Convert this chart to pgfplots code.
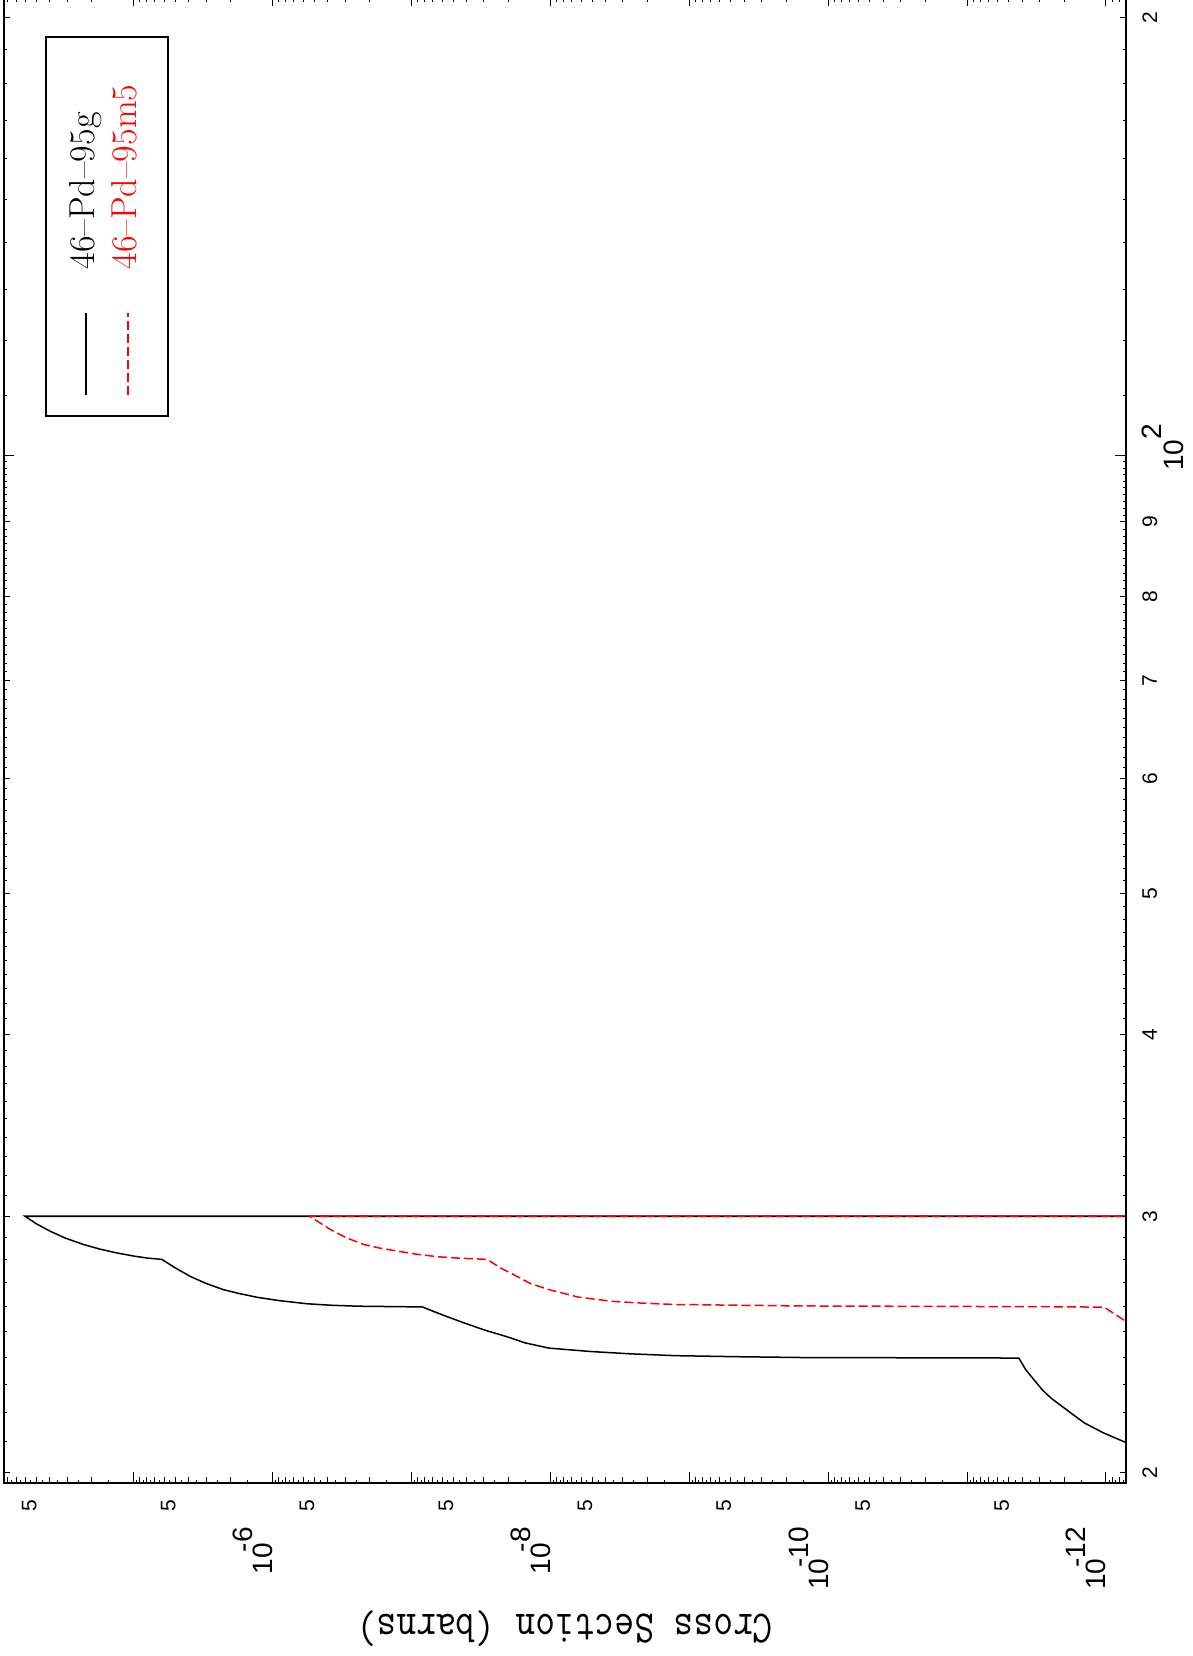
\documentclass[border=0pt]{standalone}
\usepackage{fontspec}
\setsansfont{Liberation Sans}
\usepackage{graphicx}
\usepackage{pgfplots}
\pgfplotsset{compat=1.18}

\def\halfs{7.5e-13,8.5e-13,9.5e-13}
\foreach \ee in {-12,...,-6}{\foreach \mm in {1.5,2.5,3.5,4.5,5.5,6.5,7.5,8.5,9.5}{\xdef\halfs{\halfs,\mm e\ee}}}
\xdef\halfs{\halfs,1.5e-5,2.5e-5,3.5e-5,4.5e-5,5.5e-5,6.5e-5,7.5e-5,8.5e-5}
\def\ints{7e-13,8e-13,9e-13}
\foreach \ee in {-12,...,-6}{\foreach \mm in {2,3,4,6,7,8,9}{\xdef\ints{\ints,\mm e\ee}}}
\xdef\ints{\ints,2e-5,3e-5,4e-5,6e-5,7e-5,8e-5}
\def\units{21,22,23,24,25,26,27,28,29}
\foreach \tensd in {3,...,9}{\foreach \unitd in {1,...,9}{\xdef\units{\units,\tensd\unitd}}}
\xdef\units{\units,110,120,130,140,150,160,170,180,190}

\newcommand{\dec}[1]{\fontsize{14}{14}\selectfont 10\raisebox{10pt}{\llap{-}#1}}

\begin{document}
\begin{tikzpicture}
\begin{scope}[rotate=90,transform shape]
\begin{axis}[
  xmode=log, ymode=log,
  scale only axis, width=742.8pt, height=560.4pt,
  xmin=19.68, xmax=207, ymin=7.18e-13, ymax=8.54e-5,
  axis line style={line width=0.8pt},
  tick style={line width=0.5pt, black},
  major tick length=3pt, minor tick length=3pt,
  xtick={20,30,40,50,60,70,80,90,200},
  xticklabels={2,3,4,5,6,7,8,9,2},
  minor xtick={}, minor x tick num=0,
  extra x ticks={100},
  extra x tick labels={\fontsize{14}{14}\selectfont 10\rlap{\raisebox{10.8pt}{2}}},
  extra x tick style={major tick length=5.25pt},
  ytick={5e-12,5e-11,5e-10,5e-9,5e-8,5e-7,5e-6,5e-5},
  yticklabels={5,5,5,5,5,5,5,5},
  minor ytick/.expand once=\ints,
  extra y ticks={1e-12,1e-11,1e-10,1e-9,1e-8,1e-7,1e-6,1e-5},
  extra y tick labels={\dec{12},,\dec{10},,\dec{8},,\dec{6},},
  extra y tick style={major tick length=5.25pt, yticklabel style={xshift=-13.5pt}},
  tick label style={font=\sffamily\fontsize{10.5}{12}\selectfont, inner sep=0pt},
  xticklabel shift=8pt, yticklabel shift=8.5pt,
  yticklabel style={anchor=base east},
  ylabel={\scalebox{1}[1.2]{\ttfamily\fontsize{19.2}{20}\selectfont Cross Section (barns)}},
  ylabel style={at={(axis description cs:-0.0855,0.5)}, anchor=south, inner sep=0pt},
  legend style={at={(axis description cs:0.9727,0.9634)}, anchor=north east,
    draw=black, line width=0.8pt, inner xsep=10pt, inner ysep=11.5pt,
    font=\fontsize{18}{20}\selectfont, row sep=4pt, column sep=21.5pt,
    nodes={inner sep=0pt, text height=13pt, text depth=4pt, text width=106pt}},
  legend cell align=left,
  legend image code/.code={\draw[#1] (0pt,0pt) -- (41pt,0pt);},
]
\addplot[black, line width=0.75pt, mark=none] coordinates {
(20.5,3.55e-13) (20.97,7.18e-13) (21.3,1.05e-12) (21.63,1.43e-12) (22.0,1.82e-12)
(22.50,2.49e-12) (22.8,2.88e-12) (23.16,3.30e-12) (23.55,3.80e-12)
(23.97,4.24e-12) (23.99,1.55e-10) (24.02,4.47e-10) (24.06,1.25e-9) (24.13,2.63e-9)
(24.22,5.13e-9) (24.35,1.02e-8) (24.55,1.51e-8) (24.80,2.07e-8) (25.05,2.95e-8)
(25.34,4.17e-8) (25.65,5.89e-8) (25.99,8.32e-8)
(26.02,2.45e-7) (26.06,3.80e-7) (26.12,5.64e-7) (26.25,8.91e-7) (26.39,1.29e-6)
(26.55,1.74e-6) (26.71,2.25e-6) (26.98,3.02e-6) (27.28,3.91e-6) (27.65,5.01e-6)
(28.02,6.24e-6) (28.08,7.94e-6) (28.16,9.77e-6) (28.31,1.32e-5) (28.48,1.74e-5)
(28.69,2.29e-5) (28.98,3.09e-5) (29.30,3.98e-5) (29.65,5.01e-5) (30.00,6.03e-5)
(30.00,1e-14)
};
\addlegendentry{46--Pd--95g}
\addplot[red, line width=0.75pt, mark=none, dash pattern=on 4.5pt off 2pt] coordinates {
(25.0,4.0e-13) (25.40,7.18e-13) (25.98,1.03e-12) (26.00,2.94e-12) (26.015,2.51e-11)
(26.03,1.55e-10) (26.09,1.26e-9) (26.15,2.24e-9) (26.22,3.59e-9) (26.40,6.31e-9)
(26.71,1.02e-8) (26.97,1.39e-8) (27.35,1.83e-8) (27.65,2.29e-8)
(28.02,2.84e-8) (28.07,4.37e-8) (28.14,6.52e-8) (28.26,9.33e-8) (28.39,1.26e-7)
(28.53,1.70e-7) (28.69,2.20e-7) (29.0,2.95e-7) (29.38,3.83e-7) (29.7,4.57e-7)
(30.00,5.40e-7) (30.00,1e-14)
};
\addlegendentry{\textcolor{red}{46--Pd--95m5}}
\end{axis}
\begin{axis}[
  xmode=log, ymode=log,
  scale only axis, width=742.8pt, height=560.4pt,
  xmin=19.68, xmax=207, ymin=7.18e-13, ymax=8.54e-5,
  axis line style={draw=none},
  tick style={line width=0.5pt, black},
  major tick length=1.65pt,
  xtick/.expand once=\units,
  ytick/.expand once=\halfs,
  minor xtick={}, minor ytick={}, minor tick num=0,
  xticklabel={\relax}, yticklabel={\relax},
]
\end{axis}
\pgfresetboundingbox
\path[use as bounding box] (-86.5pt,-33pt) rectangle (740.65pt,562.4pt);
\end{scope}
\end{tikzpicture}
\end{document}
